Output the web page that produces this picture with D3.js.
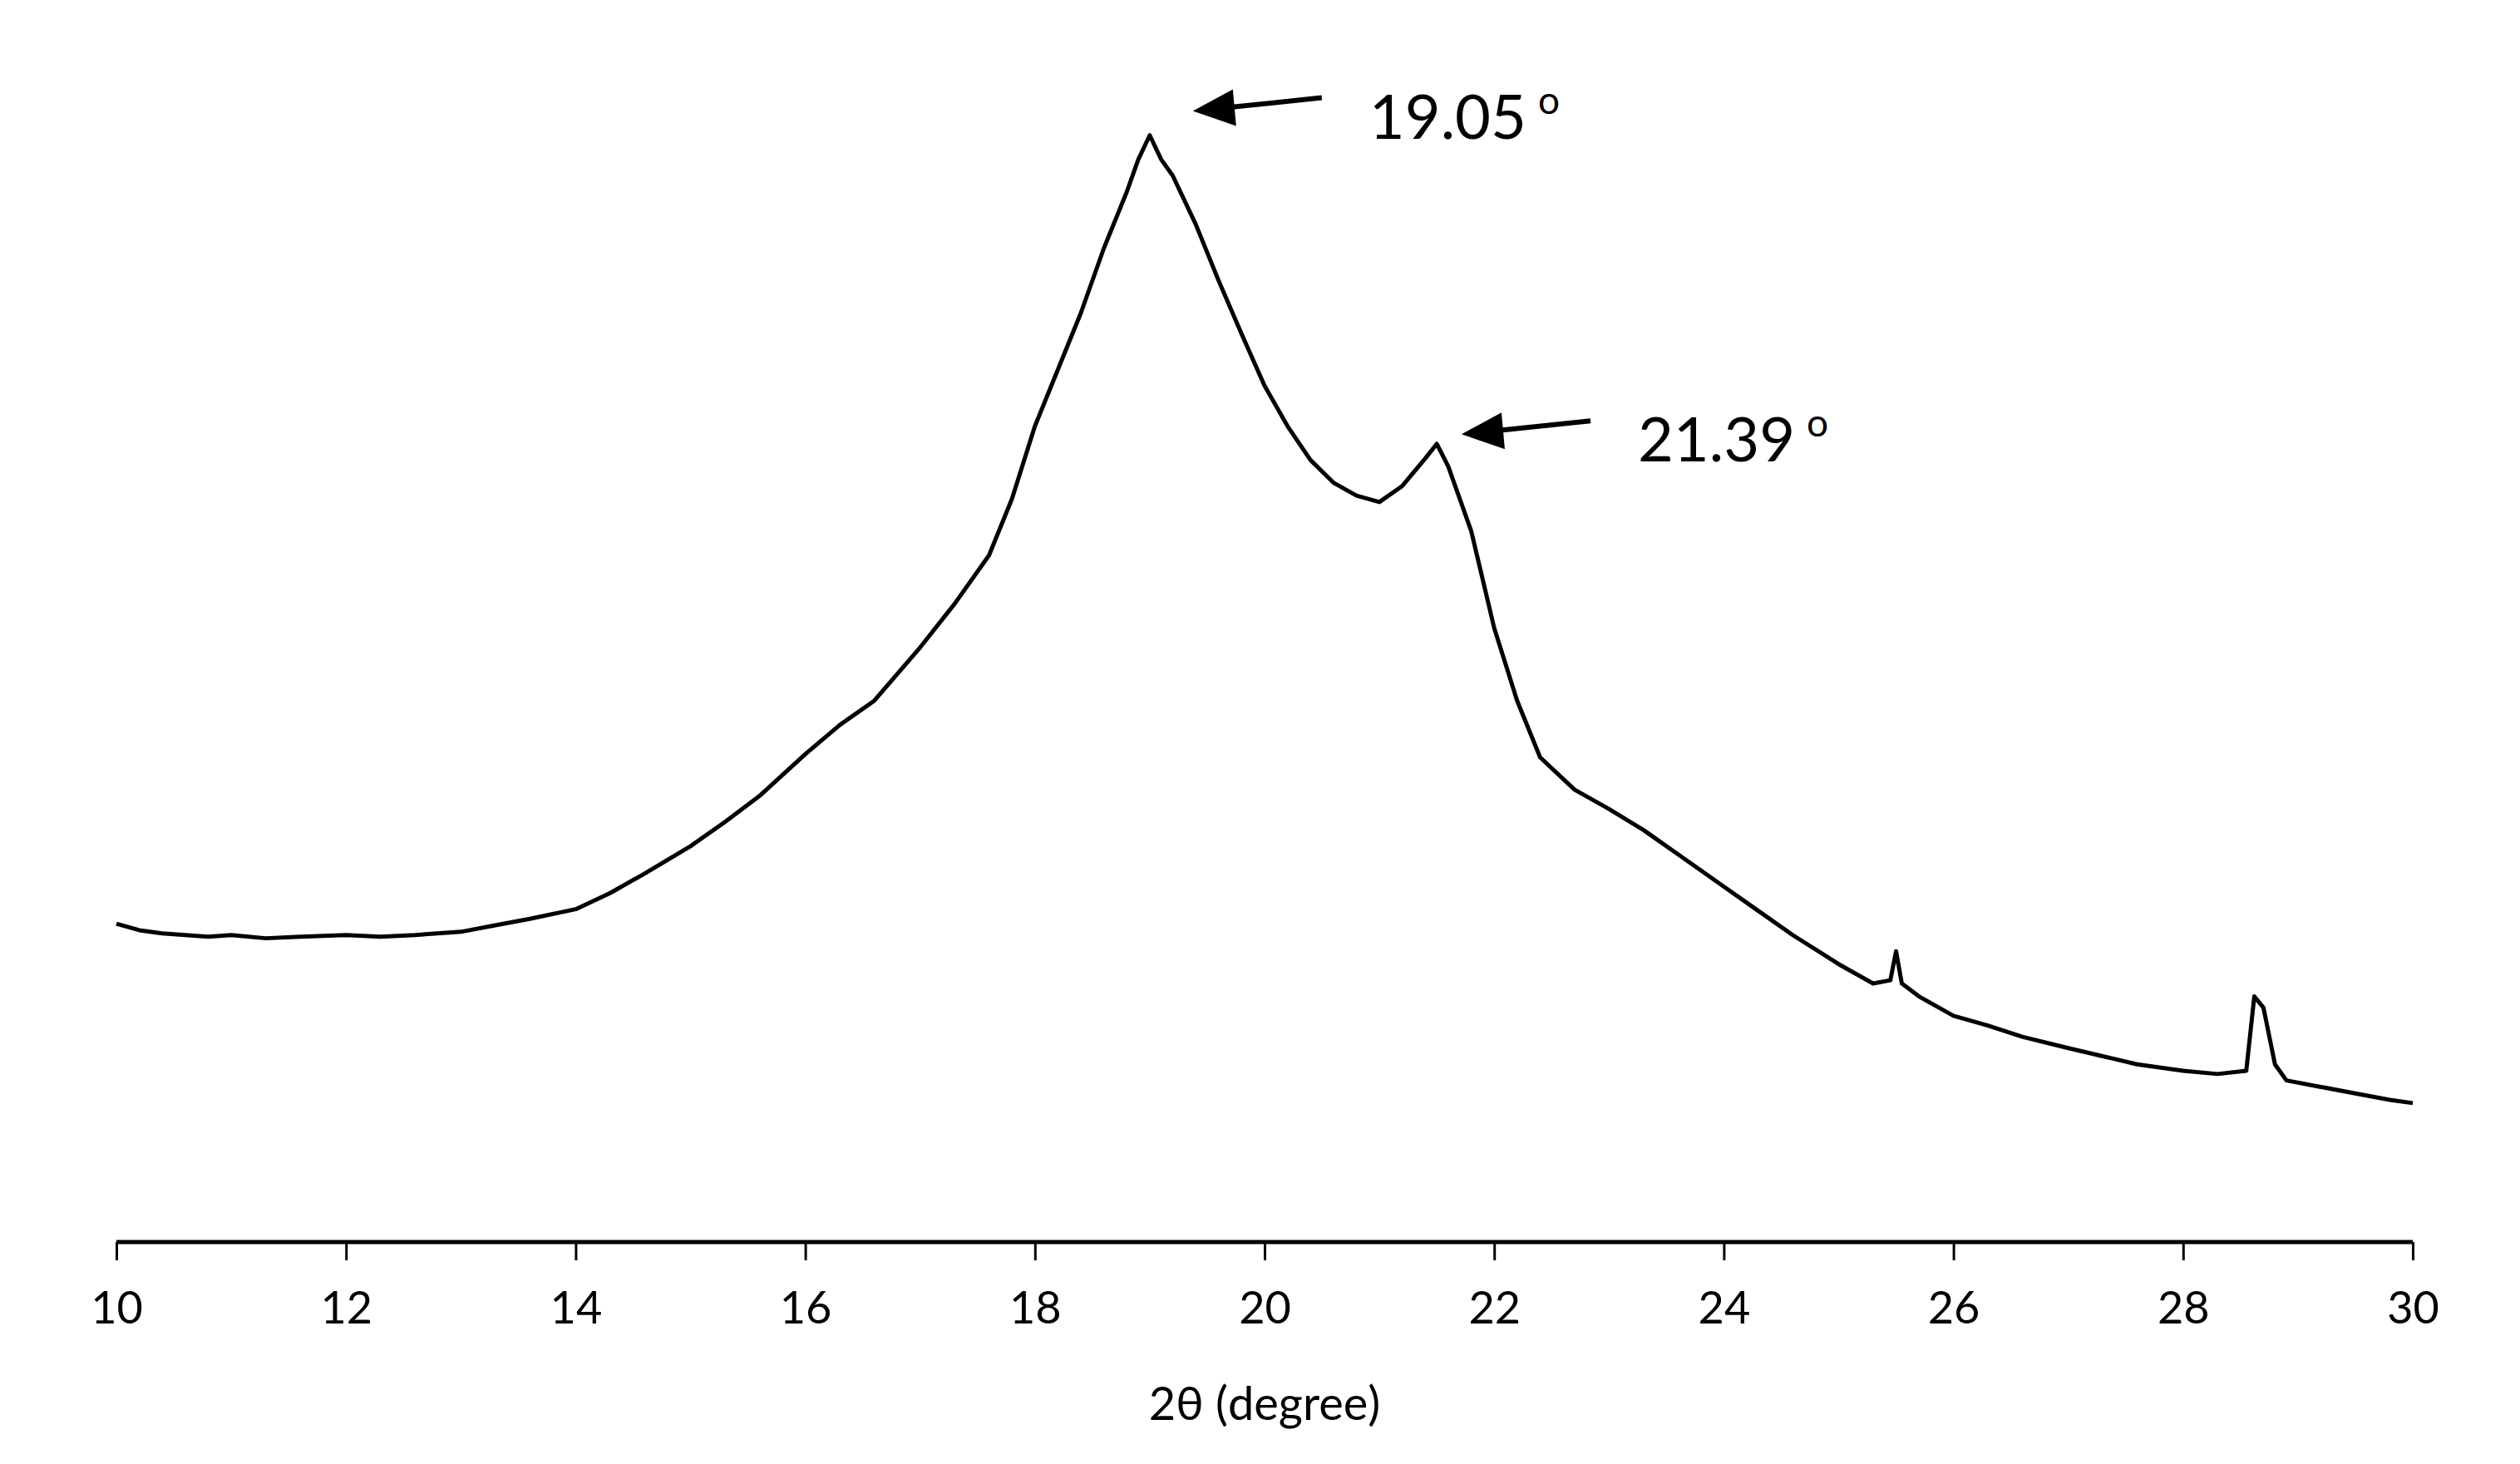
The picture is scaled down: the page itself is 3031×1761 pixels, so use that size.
<!DOCTYPE html>
<html><head><meta charset="utf-8">
<script src="https://cdn.jsdelivr.net/npm/d3@7"></script>
<style>body{margin:0;background:#fff}</style></head>
<body><svg id="c" width="3031" height="1761"></svg>
<script>
const theta = [10,10.2,10.4,10.6,10.8,11,11.3,11.6,12,12.3,12.6,13,13.3,13.6,14,14.3,14.6,15,15.3,15.6,16,16.3,16.6,17,17.3,17.6,17.8,18,18.2,18.4,18.6,18.8,18.9,19.0,19.1,19.2,19.4,19.6,19.8,20,20.2,20.4,20.6,20.8,21,21.2,21.4,21.5,21.6,21.8,22,22.2,22.4,22.7,23,23.3,23.6,24,24.3,24.6,25,25.3,25.45,25.5,25.55,25.7,26,26.3,26.6,27,27.3,27.6,28,28.3,28.55,28.62,28.7,28.8,28.9,29.2,29.5,29.8,30];
const intensity = [197,193,191,190,189,190,188,189,190,189,190,192,196,200,206,216,228,245,260,276,302,320,335,368,395,425,460,505,540,575,615,650,670,685,670,660,630,595,562,530,505,484,470,462,458,468,485,494,480,440,380,335,300,280,268,255,240,220,205,190,172,160,162,180,160,152,140,134,127,120,115,110,106,104,106,152,145,110,100,96,92,88,86];
const xTicks = [10,12,14,16,18,20,22,24,26,28,30];
const peakLabels = ["19.05","21.39"];
const peakTheta = [19.05,21.39];
const peakInt = [700,500];

const svg = d3.select("#c");
const x = d3.scaleLinear().domain([10,30]).range([140,2902]);
const y = d3.scaleLinear().domain([0,690]).range([1494,153]);
const font = "Lato, 'Open Sans', sans-serif";

svg.append("path").datum(theta.map((t,i)=>[t,intensity[i]]))
  .attr("d", d3.line().x(d=>x(d[0])).y(d=>y(d[1])))
  .attr("fill","none").attr("stroke","#000").attr("stroke-width",5).attr("stroke-linejoin","round");

const ax = svg.append("g").attr("transform","translate(0,1494)")
  .call(d3.axisBottom(x).tickValues(xTicks).tickSize(22).tickPadding(38));
ax.select(".domain").attr("stroke-width",5).attr("d","M140,0H2902");
ax.selectAll(".tick line").attr("stroke-width",3);
ax.selectAll("text").attr("font-size",54).attr("font-family",font).attr("fill","#000");

svg.append("text").attr("x",1521).attr("y",1708).attr("text-anchor","middle")
  .attr("font-size",56).attr("font-family",font).text("2θ (degree)");

peakLabels.forEach((lab,i)=>{
  const px = x(peakTheta[i]), py = y(peakInt[i]);
  const tipX = px + 45, tipY = py;
  svg.append("line").attr("x1",tipX+155).attr("y1",tipY-16).attr("x2",tipX+40).attr("y2",tipY-4)
    .attr("stroke","#000").attr("stroke-width",6);
  svg.append("path").attr("d",`M${tipX},${tipY} L${tipX+48},${tipY-26} L${tipX+52},${tipY+18} Z`).attr("fill","#000");
  const t = svg.append("text").attr("x",tipX+212).attr("y",tipY+33)
    .attr("font-size",74).attr("font-family",font).text(lab);
  t.append("tspan").attr("dx",14).attr("dy",-30).attr("font-size",46).text("o");
});
</script></body></html>
